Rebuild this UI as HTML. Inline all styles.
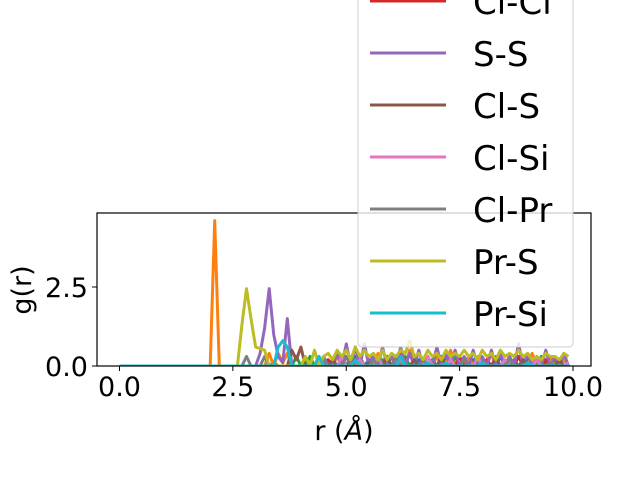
<!DOCTYPE html>
<html><head><meta charset="utf-8"><style>
body{margin:0;background:#fff;}
svg{display:block;font-family:"DejaVu Sans","Liberation Sans",sans-serif;}
</style></head><body>
<svg id="chart" width="640" height="480" viewBox="0 0 640 480">
<g id="plot"></g>
<g id="axes"></g>
<g id="legend"></g>
</svg>
<script>
const labels = ["Cl-Cl","S-S","Cl-S","Cl-Si","Cl-Pr","Pr-S","Pr-Si"];
const xTicks = [0,2.5,5,7.5,10];
const xTickLabels = ["0.0","2.5","5.0","7.5","10.0"];
const yTicks = [0,2.5];
const yTickLabels = ["0.0","2.5"];
// r grid: 0 to 9.9 step 0.1 (index i -> r = i/10)
const seriesBlue   = {34:0.1,45:0.2,52:0.3,55:0.2,60:0.3,66:0.2,72:0.3,78:0.2,84:0.3,90:0.2,96:0.2};
const seriesOrange = {20:0,21:4.6,22:0,33:0.4,34:0,35:0.4,36:0.1,37:0.4,38:0,45:0.2,48:0.3,52:0.2,57:0.4,61:0.3,64:0.5,70:0.3,73:0.5,77:0.3,82:0.4,86:0.3,91:0.4,95:0.3,98:0.2};
const seriesGreen  = {39:0.3,40:0,42:0.3,43:0,47:0.2,53:0.3,58:0.2,63:0.3,69:0.2,74:0.3,80:0.2,87:0.2,93:0.3};
const seriesRed    = {46:0.2,51:0.3,56:0.2,62:0.4,67:0.2,75:0.3,81:0.2,88:0.3,94:0.2};
const seriesPurple = {30:0,31:0.4,32:1.2,33:2.45,34:1.0,35:0.3,36:0.1,37:1.5,38:0,45:0.3,48:0.4,50:0.7,52:0.6,54:0.7,56:0.4,58:0.6,60:0.3,62:0.6,64:0.4,66:0.5,68:0.3,70:0.6,72:0.4,74:0.5,76:0.3,78:0.5,80:0.3,82:0.5,84:0.4,86:0.3,88:0.7,90:0.4,92:0.3,94:0.5,96:0.3,98:0.4};
const seriesBrown  = {37:0,38:0.5,39:0.2,40:0.6,41:0,44:0.3,47:0.2,51:0.3,55:0.1,59:0.3,65:0.2,71:0.3,76:0.2,83:0.3,89:0.2,97:0.2};
const seriesPink   = {44:0.1,49:0.3,53:0.2,57:0.3,62:0.2,68:0.3,73:0.2,79:0.3,85:0.2,92:0.2,99:0.1};
const seriesGray   = {27:0,28:0.3,29:0,32:0.3,33:0,45:0.2,50:0.3,56:0.2,61:0.3,67:0.2,76:0.2,86:0.2,95:0.1};
const seriesOlive  = {26:0,27:1.3,28:2.45,29:1.5,30:0.6,31:0.55,32:0.5,33:0,41:0.3,43:0.5,45:0.3,46:0.4,47:0.2,48:0.5,49:0.3,50:0.5,51:0.2,52:0.6,53:0.3,54:0.5,55:0.3,56:0.4,57:0.2,58:0.5,59:0.2,60:0.4,61:0.3,62:0.5,63:0.4,64:0.8,65:0.3,66:0.4,67:0.2,68:0.5,69:0.3,70:0.4,71:0.2,72:0.5,73:0.3,74:0.4,75:0.3,76:0.5,77:0.3,78:0.4,79:0.2,80:0.5,81:0.3,82:0.4,83:0.2,84:0.5,85:0.3,86:0.4,87:0.3,88:0.5,89:0.3,90:0.4,91:0.2,92:0.3,93:0.2,94:0.4,95:0.3,96:0.3,97:0.2,98:0.4,99:0.3};
const seriesCyan   = {34:0,35:0.6,36:0.8,37:0.6,38:0,43:0,44:0.3,45:0,52:0.2,53:0,62:0.3,63:0,68:0.1,72:0.1,80:0.1,90:0.1};
const allSeries = [seriesBlue,seriesOrange,seriesGreen,seriesRed,seriesPurple,seriesBrown,seriesPink,seriesGray,seriesOlive,seriesCyan];
const colors = ["#1f77b4","#ff7f0e","#2ca02c","#d62728","#9467bd","#8c564b","#e377c2","#7f7f7f","#bcbd22","#17becf"];
const N = 100;
const L=97,R=591,T=213,B=366;
const xs = v => 119.5 + v*45.35;
const ys = v => 366 - v*31.6;
const NS="http://www.w3.org/2000/svg";
function mk(tag,attrs,parent){const e=document.createElementNS(NS,tag);for(const k in attrs)e.setAttribute(k,attrs[k]);parent.appendChild(e);return e;}
const plot=document.getElementById('plot'), axes=document.getElementById('axes'), leg=document.getElementById('legend');
const clip=mk('clipPath',{id:'cp'},plot);mk('rect',{x:L,y:T,width:R-L,height:B-T},clip);
const lines=mk('g',{'clip-path':'url(#cp)'},plot);
allSeries.forEach((s,k)=>{
  let pts=[];
  for(let i=0;i<N;i++){const v=s[i]||0;pts.push(xs(i/10).toFixed(1)+','+ys(v).toFixed(1));}
  const p=mk('polyline',{points:pts.join(' '),fill:'none',stroke:colors[k],'stroke-width':3,'stroke-linejoin':'round'},lines);
  
  
});
const fr=mk('rect',{x:L,y:T,width:R-L,height:B-T,fill:'none',stroke:'#000','stroke-width':1.2},axes);


xTicks.forEach((t,i)=>{
  mk('line',{x1:xs(t),x2:xs(t),y1:B,y2:B+5,stroke:'#000','stroke-width':1},axes);
  const tx=mk('text',{x:xs(t),y:B+30,'font-size':27,'text-anchor':'middle'},axes);tx.textContent=xTickLabels[i];
  
  
});
yTicks.forEach((t,i)=>{
  mk('line',{x1:L-5,x2:L,y1:ys(t),y2:ys(t),stroke:'#000','stroke-width':1},axes);
  const tx=mk('text',{x:L-9,y:ys(t)+10,'font-size':27,'text-anchor':'end'},axes);tx.textContent=yTickLabels[i];
  
  
});
const xt=mk('text',{x:344,y:440,'font-size':27,'text-anchor':'middle'},axes);xt.innerHTML='r (<tspan font-style="italic">Å</tspan>)';


const yt=mk('text',{x:0,y:0,'font-size':27,'text-anchor':'middle',transform:'translate(31,290) rotate(-90)'},axes);yt.textContent='g(r)';


const lb=mk('rect',{x:358,y:-60,width:215,height:407,rx:4,fill:'rgba(255,255,255,0.8)',stroke:'#ccc','stroke-width':1},leg);


labels.forEach((l,i)=>{
  const y=1+i*52;
  const g=mk('g',{},leg);
  
  
  mk('line',{x1:370,x2:446,y1:y,y2:y,stroke:colors[i+3],'stroke-width':3},g);
  const t=mk('text',{x:473,y:y+13,'font-size':34},g);t.textContent=l;
});
</script>
</body></html>
